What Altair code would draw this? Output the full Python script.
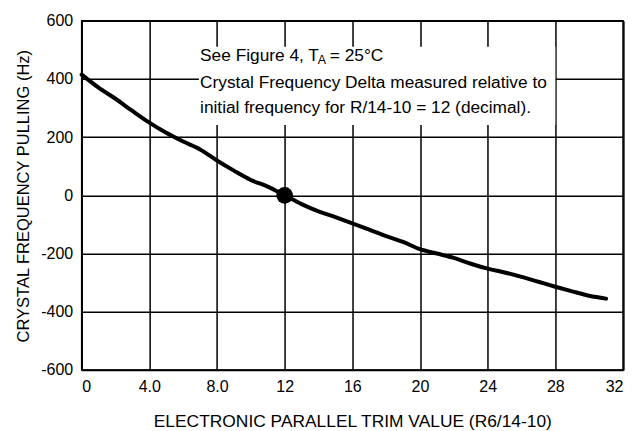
import altair as alt
import pandas as pd

# Curve: trim value (x) vs crystal frequency pulling (Hz)
trim = list(range(0, 32))
pulling = [415, 370, 332, 290, 250, 215, 185, 158, 120, 85, 53, 30, 0,
           -30, -55, -75, -96, -118, -140, -160, -185, -200, -215, -235,
           -252, -265, -280, -297, -314, -330, -345, -355]

# Reference point
ref_x = [12]
ref_y = [0]

x_ticks = [0, 4, 8, 12, 16, 20, 24, 28, 32]
y_ticks = [-600, -400, -200, 0, 200, 400, 600]

# Annotation box (data coordinates) and text lines
box_x = [6.93]
box_x2 = [28.0]
box_y = [511]
box_y2 = [242]

note_x = [7.0, 7.0, 7.0, 13.96, 14.67]
note_y = [461, 368, 283, 450, 461]
note_txt = ["See Figure 4, T",
            "Crystal Frequency Delta measured relative to",
            "initial frequency for R/14-10 = 12 (decimal).",
            "A",
            "= 25°C"]
note_size = [17.3, 17.3, 17.3, 12.5, 17.3]

FONT = "Liberation Sans, Arial, sans-serif"

curve = pd.DataFrame({"x": trim, "y": pulling})
pt = pd.DataFrame({"x": ref_x, "y": ref_y})
box = pd.DataFrame({"x": box_x, "x2": box_x2, "y": box_y, "y2": box_y2})
notes = pd.DataFrame({"x": note_x, "y": note_y, "t": note_txt, "s": note_size})

xs = alt.Scale(domain=[0, 32], nice=False, zero=False)
ys = alt.Scale(domain=[-600, 600], nice=False, zero=False)

xaxis = alt.Axis(values=x_ticks, grid=True, ticks=False,
                 labelExpr="datum.value == 0 ? '0' : (datum.value < 10 ? format(datum.value, '.1f') : '' + datum.value)",
                 title="ELECTRONIC PARALLEL TRIM VALUE (R6/14-10)",
                 titleY=57, titleBaseline="alphabetic", titleFontSize=17.4)
yaxis = alt.Axis(values=y_ticks, grid=True, ticks=False,
                 labelExpr="'' + datum.value",
                 title="CRYSTAL FREQUENCY PULLING (Hz)",
                 titleX=-50, titleY=175)

line = alt.Chart(curve).mark_line(color="black", strokeWidth=4, strokeCap="round",
                                  interpolate="monotone").encode(
    x=alt.X("x:Q", scale=xs, axis=xaxis),
    y=alt.Y("y:Q", scale=ys, axis=yaxis),
)

rect = alt.Chart(box).mark_rect(color="white").encode(
    x=alt.X("x:Q", scale=xs), x2="x2:Q",
    y=alt.Y("y:Q", scale=ys), y2="y2:Q",
)

dot = alt.Chart(pt).mark_point(shape="circle", filled=True, color="black",
                               size=280, opacity=1).encode(
    x=alt.X("x:Q", scale=xs), y=alt.Y("y:Q", scale=ys))

txt = alt.Chart(notes).mark_text(align="left", baseline="alphabetic",
                                 font=FONT, color="black").encode(
    x=alt.X("x:Q", scale=xs), y=alt.Y("y:Q", scale=ys),
    text="t:N", size=alt.Size("s:Q", scale=None, legend=None))

chart = alt.layer(line, rect, dot, txt).properties(
    width=541.6, height=349.3,
    padding={"left": 73.7, "top": 12.7, "right": 2, "bottom": 61},
    autosize="none",
).configure_view(stroke="black", strokeWidth=1.5).configure_axis(
    gridColor="black", gridOpacity=1, gridWidth=1.5,
    domainColor="black", domainWidth=1.5,
    labelFont=FONT, labelFontSize=16, labelColor="black",
    titleFont=FONT, titleFontSize=16.5, titleFontWeight="normal", titleColor="black",
).configure_axisX(labelPadding=9).configure_axisY(labelPadding=9)

chart.save("out.html", embed_options={"renderer": "svg", "actions": False})
